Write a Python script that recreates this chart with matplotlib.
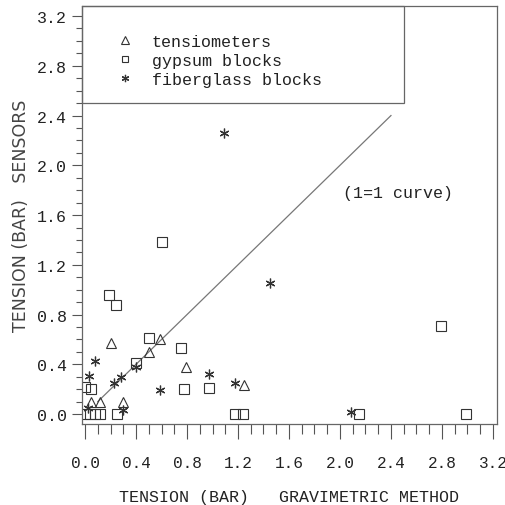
import numpy as np
import matplotlib
matplotlib.use('Agg')
import matplotlib.pyplot as plt
from matplotlib.patches import Rectangle
from matplotlib.ticker import MultipleLocator

# values (x = gravimetric, y = sensors), bar
tens_x = [0.20, 0.59, 0.50, 0.79, 0.30, 0.05, 0.12, 1.25]
tens_y = [0.57, 0.60, 0.50, 0.38, 0.10, 0.10, 0.10, 0.23]

gyps_x = [0.00, 0.04, 0.08, 0.12, 0.25, 0.00, 0.05, 0.40, 0.50, 0.75,
          0.78, 0.97, 1.18, 1.24, 2.15, 2.99, 2.79, 0.60, 0.19, 0.24]
gyps_y = [0.00, 0.00, 0.00, 0.00, 0.00, 0.22, 0.20, 0.41, 0.61, 0.53,
          0.20, 0.21, 0.00, 0.00, 0.00, 0.00, 0.71, 1.38, 0.96, 0.88]

fib_x = [0.08, 0.03, 0.28, 0.23, 0.40, 0.59, 0.30, 0.02, 0.97, 1.18,
         1.45, 2.09, 1.09]
fib_y = [0.43, 0.31, 0.30, 0.25, 0.38, 0.19, 0.03, 0.05, 0.32, 0.25,
         1.05, 0.02, 2.26]

line_ends = [0.10, 2.40]
ticks = [0.0, 0.4, 0.8, 1.2, 1.6, 2.0, 2.4, 2.8, 3.2]

mono = 'Liberation Mono'
ink = '#333333'
asterisk = (6, 2, 0)   # six-armed line star

fig = plt.figure(figsize=(5.06, 5.06), dpi=100)
ax = fig.add_axes([0.162, 0.160, 0.820, 0.826])

# 1=1 line
ax.plot(line_ends, line_ends, color='#777777', lw=0.9)

ax.plot(tens_x, tens_y, ls='none', marker='^', ms=7, mfc='none',
        mec=ink, mew=0.8, label='tensiometers')
ax.plot(gyps_x, gyps_y, ls='none', marker='s', ms=6.5, mfc='none',
        mec=ink, mew=0.8, label='gypsum blocks')
ax.plot(fib_x, fib_y, ls='none', marker=asterisk, ms=7, color=ink,
        mew=0.9, label='fiberglass blocks')

ax.text(2.02, 1.78, '(1=1 curve)', family=mono, fontsize=12,
        color='#222222', va='center', ha='left')

ax.set_xlim(-0.024, 3.231)
ax.set_ylim(-0.080, 3.28)
ax.set_xticks(ticks)
ax.set_yticks(ticks)
ax.set_xticklabels(['%.1f' % t for t in ticks], family=mono, fontsize=11.6)
ax.set_yticklabels(['%.1f' % t for t in ticks], family=mono, fontsize=12)
ax.xaxis.set_minor_locator(MultipleLocator(0.1))
ax.yaxis.set_minor_locator(MultipleLocator(0.1))
ax.tick_params(axis='x', which='major', length=11, width=0.8, pad=11,
               colors='#555555', labelcolor='#222222')
ax.tick_params(axis='x', which='minor', length=7, width=0.8, colors='#555555')
ax.tick_params(axis='y', which='major', length=7, width=0.8, pad=4,
               colors='#555555', labelcolor='#222222')
ax.tick_params(axis='y', which='minor', length=4.5, width=0.8, colors='#555555')
for s in ax.spines.values():
    s.set_color('#666666')
    s.set_linewidth(0.9)

ax.set_xlabel('TENSION (BAR)   GRAVIMETRIC METHOD', family=mono,
              fontsize=12, color='#222222', labelpad=14)
ax.set_ylabel('TENSION (BAR)   SENSORS', fontsize=12.5, color='#444444',
              labelpad=5)

# legend box attached to the top-left corner of the frame
ax.add_patch(Rectangle((0.0, 0.769), 0.776, 0.231, transform=ax.transAxes,
                       fill=False, edgecolor='#666666', lw=0.9,
                       clip_on=False))
leg = ax.legend(loc='upper left', bbox_to_anchor=(0.084, 0.933),
                borderaxespad=0, borderpad=0, frameon=False,
                prop={'family': mono, 'size': 12}, handlelength=1.0,
                handletextpad=1.1, labelspacing=0.24, markerscale=0.75)
for t in leg.get_texts():
    t.set_color('#222222')

fig.savefig('out.png', dpi=100)
